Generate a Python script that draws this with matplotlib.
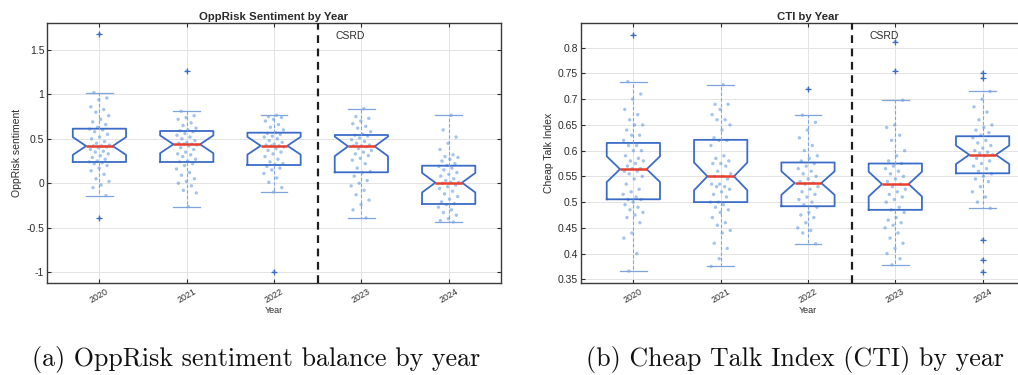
"""
Notched box plots by year (OppRisk sentiment and Cheap Talk Index), MATLAB look.
"""
import matplotlib.pyplot as plt
import matplotlib.ticker as mticker
import numpy as np

plt.rcParams.update({
    "font.family": "Liberation Sans",
    "axes.unicode_minus": False,
})

BOX = "#3b6cc8"
WHISK = "#7fa4de"
DOT = "#4a8ada"
MED = "#e8402f"
INK = "#2b2b2b"

years = ["2020", "2021", "2022", "2023", "2024"]

# ---------------- (a) OppRisk sentiment ----------------
opp_med = [0.419, 0.438, 0.422, 0.415, 0.006]
opp_q1 = [0.239, 0.239, 0.205, 0.123, -0.234]
opp_q3 = [0.614, 0.588, 0.569, 0.543, 0.197]
opp_lo = [-0.141, -0.264, -0.099, -0.392, -0.437]
opp_hi = [1.019, 0.810, 0.765, 0.839, 0.765]
opp_notch = [0.10, 0.10, 0.10, 0.11, 0.11]
opp_fliers = [[1.68, -0.395], [1.264], [-0.996], [], []]
opp_points = [
    [1.68, 1.02, 0.96, 0.94, 0.86, 0.83, 0.80, 0.76, 0.72, 0.69, 0.66, 0.63, 0.61, 0.60,
     0.58, 0.55, 0.52, 0.50, 0.47, 0.45, 0.43, 0.42, 0.42, 0.41, 0.40, 0.38, 0.36, 0.35,
     0.33, 0.31, 0.29, 0.27, 0.25, 0.24, 0.23, 0.22, 0.20, 0.17, 0.14, 0.10, 0.05, 0.02,
     -0.02, -0.05, -0.14, -0.395],
    [1.264, 0.81, 0.76, 0.74, 0.72, 0.68, 0.65, 0.62, 0.60, 0.59, 0.58, 0.56, 0.54, 0.52,
     0.50, 0.48, 0.46, 0.45, 0.44, 0.44, 0.43, 0.42, 0.40, 0.38, 0.35, 0.33, 0.32, 0.30,
     0.27, 0.25, 0.24, 0.22, 0.20, 0.16, 0.12, 0.09, 0.05, 0.02, 0.00, -0.03, -0.08,
     -0.11, -0.264],
    [0.765, 0.75, 0.74, 0.72, 0.70, 0.66, 0.63, 0.60, 0.57, 0.56, 0.55, 0.53, 0.52, 0.50,
     0.48, 0.46, 0.44, 0.43, 0.42, 0.42, 0.41, 0.39, 0.37, 0.35, 0.33, 0.30, 0.27, 0.24,
     0.22, 0.21, 0.19, 0.17, 0.15, 0.11, 0.06, 0.01, -0.05, -0.099, -0.996],
    [0.839, 0.75, 0.73, 0.70, 0.67, 0.64, 0.62, 0.58, 0.55, 0.54, 0.53, 0.51, 0.49, 0.47,
     0.45, 0.43, 0.42, 0.42, 0.41, 0.39, 0.37, 0.35, 0.33, 0.31, 0.28, 0.26, 0.22, 0.17,
     0.13, 0.12, 0.08, 0.03, 0.00, -0.03, -0.08, -0.13, -0.19, -0.24, -0.30, -0.392],
    [0.765, 0.60, 0.52, 0.45, 0.38, 0.32, 0.30, 0.29, 0.27, 0.25, 0.22, 0.20, 0.19, 0.17,
     0.15, 0.12, 0.10, 0.08, 0.05, 0.03, 0.01, 0.01, 0.00, -0.02, -0.04, -0.06, -0.09,
     -0.12, -0.15, -0.18, -0.21, -0.23, -0.24, -0.27, -0.30, -0.33, -0.36, -0.40, -0.42,
     -0.437],
]
opp_ticks = [-1, -0.5, 0, 0.5, 1, 1.5]

# ---------------- (b) Cheap Talk Index ----------------
cti_med = [0.564, 0.550, 0.537, 0.535, 0.592]
cti_q1 = [0.5055, 0.500, 0.492, 0.485, 0.556]
cti_q3 = [0.615, 0.621, 0.577, 0.575, 0.628]
cti_lo = [0.366, 0.375, 0.419, 0.378, 0.488]
cti_hi = [0.734, 0.728, 0.669, 0.698, 0.715]
cti_notch = [0.025, 0.027, 0.023, 0.024, 0.018]
cti_fliers = [[0.825], [], [0.720], [0.812, 0.755], [0.751, 0.741, 0.427, 0.388, 0.365]]
cti_points = [
    [0.825, 0.734, 0.71, 0.70, 0.68, 0.67, 0.66, 0.65, 0.65, 0.64, 0.63, 0.63, 0.62, 0.61,
     0.61, 0.60, 0.60, 0.59, 0.585, 0.58, 0.58, 0.575, 0.57, 0.565, 0.565, 0.56, 0.56,
     0.555, 0.55, 0.545, 0.535, 0.525, 0.52, 0.515, 0.51, 0.505, 0.505, 0.50, 0.495, 0.49,
     0.485, 0.48, 0.475, 0.47, 0.46, 0.44, 0.43, 0.40, 0.366],
    [0.728, 0.69, 0.69, 0.68, 0.67, 0.66, 0.66, 0.65, 0.64, 0.625, 0.62, 0.62, 0.61, 0.59,
     0.585, 0.58, 0.575, 0.575, 0.57, 0.56, 0.555, 0.55, 0.55, 0.545, 0.535, 0.535, 0.53,
     0.53, 0.525, 0.52, 0.515, 0.51, 0.50, 0.50, 0.495, 0.49, 0.485, 0.48, 0.47, 0.46,
     0.455, 0.445, 0.44, 0.42, 0.41, 0.39, 0.375],
    [0.720, 0.669, 0.655, 0.64, 0.625, 0.61, 0.60, 0.59, 0.585, 0.58, 0.575, 0.57, 0.565,
     0.56, 0.555, 0.55, 0.545, 0.54, 0.537, 0.535, 0.53, 0.525, 0.52, 0.515, 0.51, 0.505,
     0.50, 0.495, 0.49, 0.48, 0.475, 0.47, 0.46, 0.45, 0.445, 0.44, 0.419],
    [0.812, 0.755, 0.698, 0.65, 0.645, 0.63, 0.62, 0.60, 0.59, 0.58, 0.575, 0.57, 0.565,
     0.56, 0.555, 0.55, 0.545, 0.54, 0.535, 0.53, 0.525, 0.52, 0.515, 0.51, 0.505, 0.50,
     0.49, 0.485, 0.48, 0.47, 0.465, 0.46, 0.455, 0.45, 0.44, 0.43, 0.42, 0.41, 0.40, 0.39,
     0.378],
    [0.751, 0.741, 0.715, 0.70, 0.685, 0.675, 0.66, 0.65, 0.645, 0.64, 0.635, 0.63, 0.625,
     0.62, 0.615, 0.61, 0.605, 0.60, 0.597, 0.595, 0.592, 0.59, 0.585, 0.58, 0.575, 0.57,
     0.565, 0.56, 0.555, 0.55, 0.545, 0.54, 0.53, 0.52, 0.51, 0.50, 0.488, 0.427, 0.388,
     0.365],
]
cti_ticks = [0.35, 0.4, 0.45, 0.5, 0.55, 0.6, 0.65, 0.7, 0.75, 0.8]


def spread(vals, fl):
    # fixed (non-random) horizontal spread for the dots; outliers sit on the centre line
    off = (((np.arange(1, len(vals) + 1) * 0.618034) % 1.0) - 0.5) * 0.24
    for i, v in enumerate(vals):
        if v in fl:
            off[i] = 0.0
    return off


def panel(ax, med, q1, q3, lo, hi, notch, fliers, points, ticks, ylim, title, ylabel):
    pos = np.arange(1, len(years) + 1)
    stats = []
    for i in range(len(years)):
        stats.append(dict(med=med[i], q1=q1[i], q3=q3[i], whislo=lo[i], whishi=hi[i],
                          cilo=med[i] - notch[i], cihi=med[i] + notch[i], fliers=fliers[i]))
    ax.set_axisbelow(True)
    ax.grid(True, color="#e3e3e3", lw=0.7)
    for p, vals, fl in zip(pos, points, fliers):
        ax.scatter(p + spread(vals, fl), vals, s=6, color=DOT, alpha=0.5,
                   edgecolors="none", zorder=2)
    ax.bxp(stats, positions=pos, widths=0.61, shownotches=True, showfliers=True,
           boxprops=dict(color=BOX, lw=1.3),
           medianprops=dict(color=MED, lw=1.8),
           whiskerprops=dict(color=WHISK, lw=0.8, ls=(0, (3, 2))),
           capprops=dict(color=WHISK, lw=0.9),
           flierprops=dict(marker="+", markeredgecolor=BOX, markersize=4, mew=0.9),
           manage_ticks=False)
    ax.axvline(3.5, color="#1e1e1e", lw=1.6, ls=(0, (3.5, 2.5)), zorder=4)
    ax.text(3.7, 0.95, "CSRD", transform=ax.get_xaxis_transform(), fontsize=7.5,
            color=INK, va="center", ha="left")
    ax.set_xlim(0.4, 5.6)
    ax.set_ylim(*ylim)
    ax.set_xticks(pos)
    ax.set_xticklabels(years, rotation=30, ha="center", fontsize=6.5)
    ax.set_yticks(ticks)
    ax.yaxis.set_major_formatter(mticker.FuncFormatter(lambda v, _: f"{v:g}"))
    ax.tick_params(direction="in", length=3, width=0.8, color=INK, labelcolor=INK,
                   top=True, right=True, labelsize=7.5, pad=2)
    ax.tick_params(axis="x", labelsize=6.5, pad=3)
    for s in ax.spines.values():
        s.set_color("#3a3a3a")
        s.set_linewidth(1.0)
    ax.set_title(title, fontsize=8.2, fontweight="bold", color=INK, pad=2)
    ax.set_xlabel("Year", fontsize=6.5, color=INK, labelpad=1)
    ax.set_ylabel(ylabel, fontsize=7.5, color=INK, labelpad=3)


fig = plt.figure(figsize=(10.18, 3.75), dpi=100)
ax1 = fig.add_axes([0.0462, 0.2453, 0.446, 0.6933])
ax2 = fig.add_axes([0.5707, 0.2453, 0.446, 0.6933])

panel(ax1, opp_med, opp_q1, opp_q3, opp_lo, opp_hi, opp_notch, opp_fliers, opp_points,
      opp_ticks, (-1.124, 1.804), "OppRisk Sentiment by Year", "OppRisk sentiment")
panel(ax2, cti_med, cti_q1, cti_q3, cti_lo, cti_hi, cti_notch, cti_fliers, cti_points,
      cti_ticks, (0.3428, 0.848), "CTI by Year", "Cheap Talk Index")

fig.text(0.2520, 0.042, "(a) OppRisk sentiment balance by year", family="cmr10",
         fontsize=18.7, ha="center", va="center", color="#111")
fig.text(0.7810, 0.042, "(b) Cheap Talk Index (CTI) by year", family="cmr10",
         fontsize=18.7, ha="center", va="center", color="#111")

fig.savefig("out.png", dpi=100)
